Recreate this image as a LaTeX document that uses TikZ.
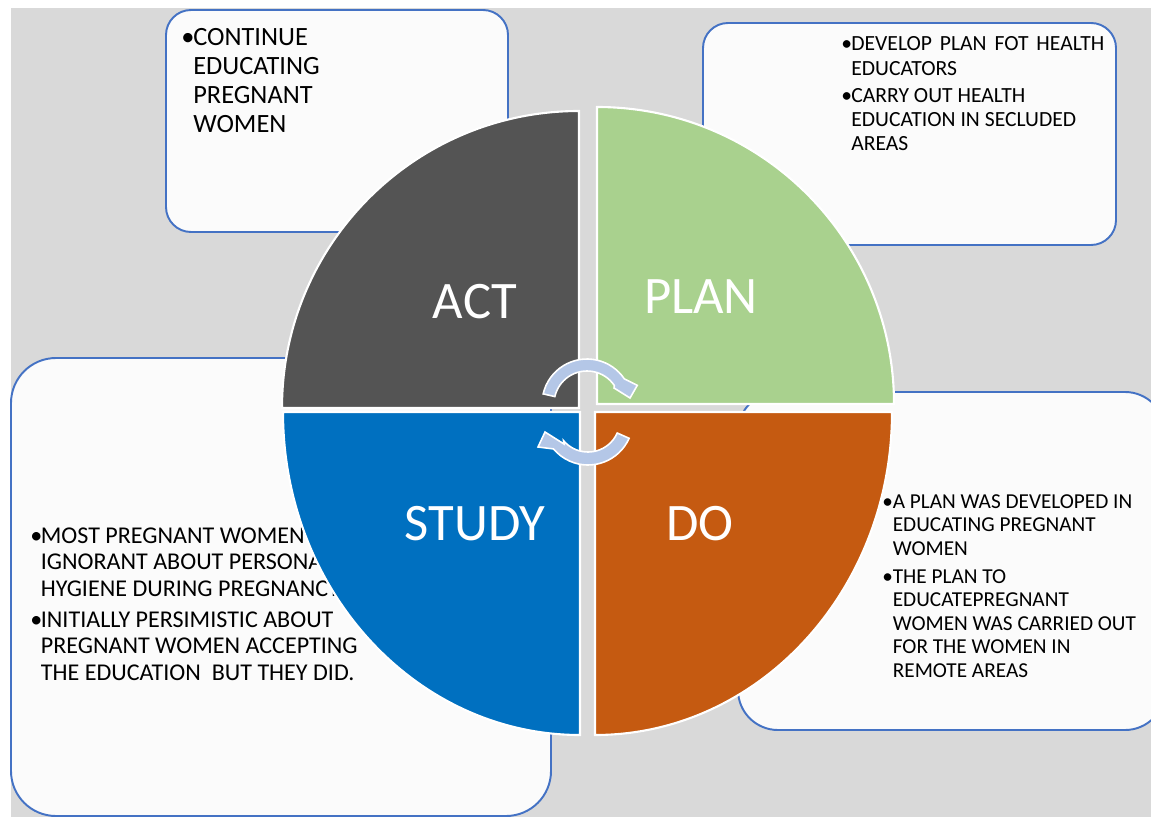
\documentclass[tikz,border=0pt]{standalone}
\usepackage{fontspec}
\setmainfont{Carlito}
\usetikzlibrary{calc}

\definecolor{bggray}{HTML}{D9D9D9}
\definecolor{notefill}{HTML}{FBFBFB}
\definecolor{noteblue}{HTML}{4472C4}
\definecolor{actgray}{HTML}{545454}
\definecolor{plangreen}{HTML}{A9D18E}
\definecolor{studyblue}{HTML}{0070C0}
\definecolor{doorange}{HTML}{C55A11}
\definecolor{arrowblue}{HTML}{B4C7E7}

\newlength{\bulw}
\newcommand{\bul}{\makebox[\bulw][l]{\textbullet}}
\newcommand{\ind}{\hspace*{\bulw}}

\begin{document}
\begin{tikzpicture}[x=0.02cm, y=-0.02cm,
	notebox/.style={draw=noteblue, fill=notefill, line width=1.1pt},
	note/.style={inner sep=0pt, anchor=base west},
	quarter/.style={draw=white, line width=1.2pt},
	cyclearrow/.style={fill=arrowblue, draw=white, line width=0.9pt},
	quadlabel/.style={text=white, inner sep=0pt, anchor=base, font=\fontsize{30}{36}\selectfont}]
	\useasboundingbox (0,0) rectangle (1151,817);
	\clip (0,0) rectangle (1151,817);
	\fill[white] (0,0) rectangle (1151,817);
	\fill[bggray] (11,8) rectangle (1151,817);
	\draw[notebox, rounded corners=0.5cm] (166,10) rectangle (508,232);
	\draw[notebox, rounded corners=0.5cm] (703,23) rectangle (1116,245);
	\draw[notebox, rounded corners=0.9cm] (11,358) rectangle (551,816);
	\draw[notebox, rounded corners=0.8cm] (738,392) rectangle (1165,730);
	\node[note, font=\fontsize{15}{16.5}\selectfont\setlength{\bulw}{0.24cm}] (actnote) at (181,46)
		{\parbox[t]{6cm}{\bul CONTINUE\\\ind EDUCATING\\\ind PREGNANT\\\ind WOMEN}};
	\node[note, font=\fontsize{12.3}{13.9}\selectfont\setlength{\bulw}{0.2cm}] (plannote) at (841,51)
		{\parbox[t]{6cm}{\bul\makebox[5.06cm][s]{DEVELOP PLAN FOT HEALTH}\\\ind EDUCATORS\\[1.3pt]
		\bul CARRY OUT HEALTH\\\ind EDUCATION IN SECLUDED\\\ind AREAS}};
	\node[note, font=\fontsize{13.7}{15.1}\selectfont\setlength{\bulw}{0.21cm}] (studynote) at (30,543)
		{\parbox[t]{8cm}{\bul MOST PREGNANT WOMEN\\\ind IGNORANT ABOUT PERSONAL\\\ind HYGIENE DURING PREGNANCY\\[2.6pt]
		\bul INITIALLY PERSIMISTIC ABOUT\\\ind PREGNANT WOMEN ACCEPTING\\\ind THE EDUCATION\ \ BUT THEY DID.}};
	\node[note, font=\fontsize{12.1}{13.4}\selectfont\setlength{\bulw}{0.21cm}] (donote) at (882,508)
		{\parbox[t]{7cm}{\bul A PLAN WAS DEVELOPED IN\\\ind EDUCATING PREGNANT\\\ind WOMEN\\[2.6pt]
		\bul THE PLAN TO\\\ind EDUCATEPREGNANT\\\ind WOMEN WAS CARRIED OUT\\\ind FOR THE WOMEN IN\\\ind REMOTE AREAS}};
	\filldraw[quarter, fill=actgray] (579,408) -- ++(-297,0) arc[start angle=180, end angle=270, radius=297] -- cycle;
	\filldraw[quarter, fill=plangreen] (597,404) -- ++(0,-297) arc[start angle=270, end angle=360, radius=297] -- cycle;
	\filldraw[quarter, fill=doorange] (595,412) -- ++(297,0) arc[start angle=0, end angle=90, x radius=297, y radius=323] -- cycle;
	\filldraw[quarter, fill=studyblue] (580,412) -- ++(0,323) arc[start angle=90, end angle=180, x radius=297, y radius=323] -- cycle;
	\node[quadlabel] (act) at (475,318) {ACT};
	\node[quadlabel] (plan) at (701,313) {PLAN};
	\node[quadlabel] (study) at (475,540) {STUDY};
	\node[quadlabel] (do) at (700,540) {DO};
	\begin{scope}[shift={(587,404)}, yscale=-1]
		\filldraw[cyclearrow] (167:45) arc[start angle=167, end angle=34, radius=45] -- (50.3,18.7) -- (43,6) -- (27,16)
			-- (34:33) arc[start angle=34, end angle=167, radius=33] -- cycle;
	\end{scope}
	\begin{scope}[shift={(588,420)}, yscale=-1]
		\filldraw[cyclearrow] (-24:45) arc[start angle=-24, end angle=-140, radius=45] -- (-50,-27) -- (-43,-12) -- (-24,-24)
			-- (-140:32) arc[start angle=-140, end angle=-24, radius=32] -- cycle;
	\end{scope}
\end{tikzpicture}
\end{document}
